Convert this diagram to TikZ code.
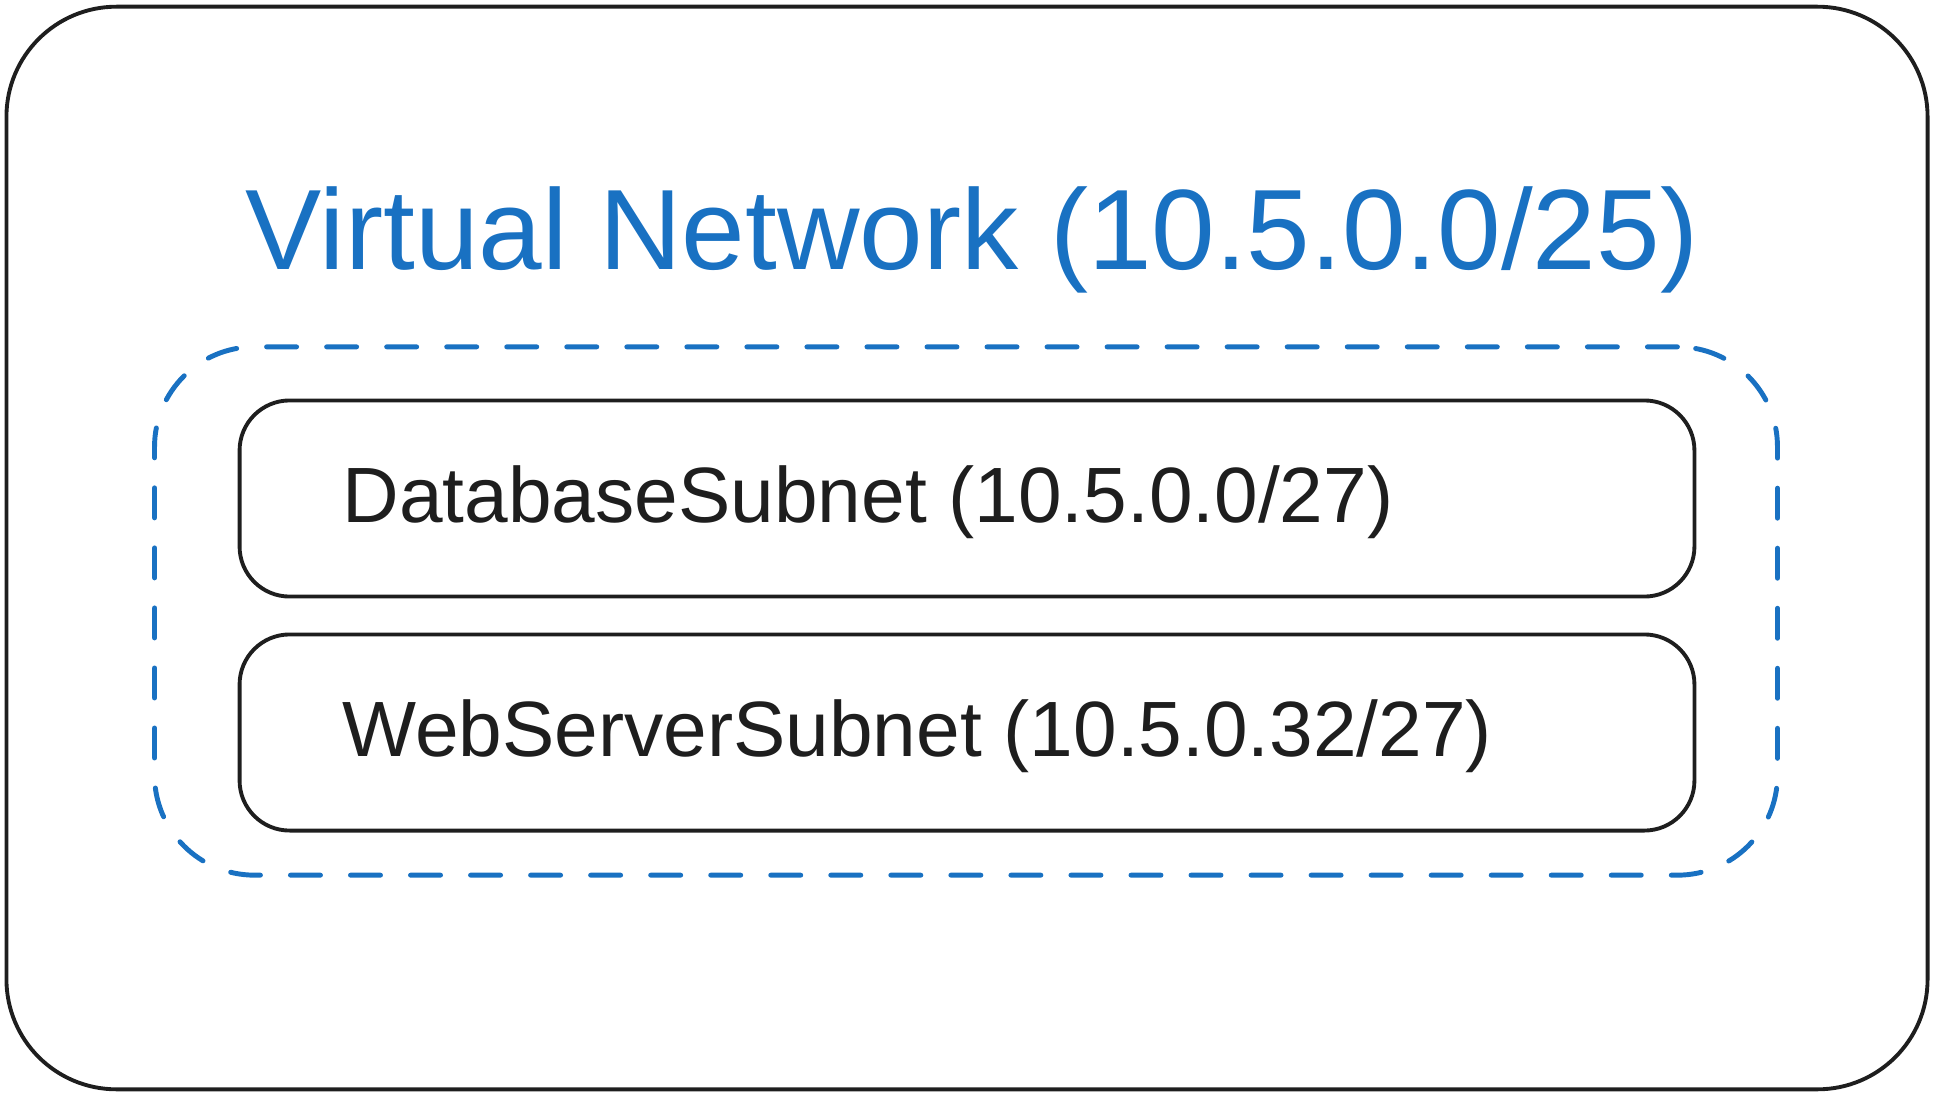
\documentclass[tikz,border=0pt]{standalone}
\usepackage{fontspec}
\setmainfont{Liberation Sans}
\usetikzlibrary{positioning}
\definecolor{sketchblue}{HTML}{1971C2}
\definecolor{sketchink}{HTML}{1E1E1E}
\tikzset{vnetbox/.style={rectangle,rounded corners=1.1cm,draw=sketchink,line width=1.1pt,minimum width=19.2cm,minimum height=10.82cm}}
\tikzset{groupbox/.style={rectangle,rounded corners=1cm,draw=sketchblue,line width=1.4pt,line cap=round,dash pattern=on 0.3cm off 0.3cm,minimum width=16.22cm,minimum height=5.28cm}}
\tikzset{subnet/.style={rectangle,rounded corners=0.5cm,draw=sketchink,line width=1.1pt,minimum width=14.54cm,minimum height=1.96cm}}
\tikzset{subnetLabel/.style={anchor=base west,inner sep=0pt,text=sketchink,font=\fontsize{22.3}{26}\selectfont}}
\tikzset{titleLabel/.style={anchor=base,inner sep=0pt,text=sketchblue,font=\fontsize{32.5}{38}\selectfont}}

\begin{document}
\begin{tikzpicture}[x=0.01cm,y=-0.01cm]
\useasboundingbox (0,0) rectangle (1934,1094);
\node (vnet) [vnetbox] at (967,548) {};
\node (vnetTitle) [titleLabel] at (972,269) {Virtual Network (10.5.0.0/25)};
\node (subnets) [groupbox] at (966,611) {};
\node (dbSubnet) [subnet] at (967,498.5) {};
\node (webSubnet) [subnet] at (967,732.5) {};
\node (dbLabel) [subnetLabel] at (342,522) {DatabaseSubnet (10.5.0.0/27)};
\node (webLabel) [subnetLabel] at (342,756) {WebServerSubnet (10.5.0.32/27)};
\end{tikzpicture}
\end{document}
